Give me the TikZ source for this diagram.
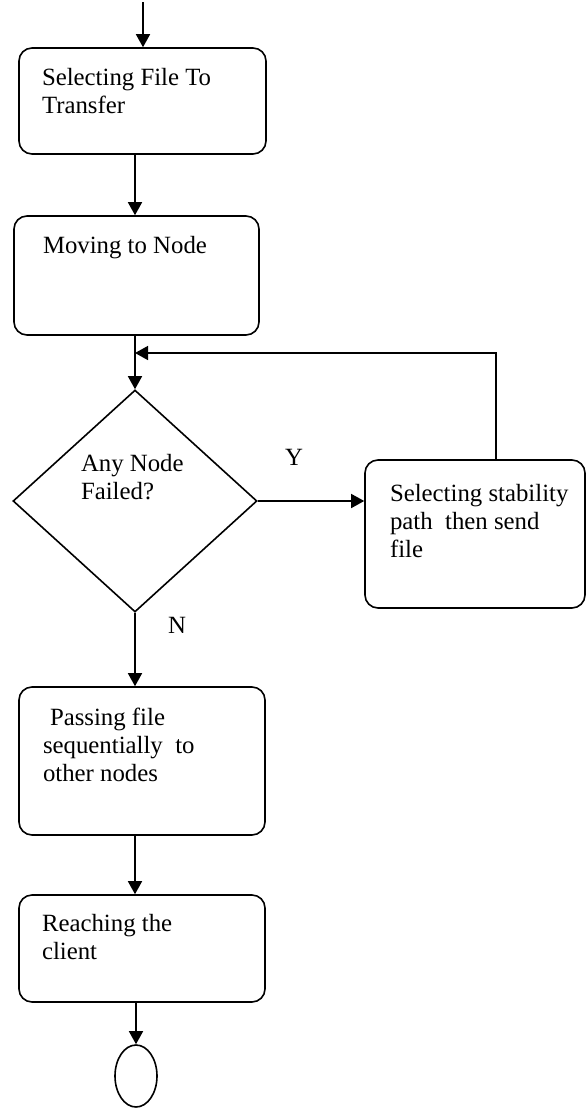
\documentclass[tikz,border=0pt]{standalone}
\usepackage{fontspec}
\setmainfont{Liberation Serif}
\usetikzlibrary{positioning,calc,shapes.geometric,arrows.meta}

\tikzset{
  block/.style={draw,line width=0.8pt,rounded corners=6.5pt,inner sep=0pt},
  decision/.style={draw,line width=0.8pt,diamond,inner sep=0pt},
  arr/.style={line width=0.75pt,-{Triangle[length=6.5pt,width=7pt]}}
}

\begin{document}
\begin{tikzpicture}[x=0.5pt,y=-0.5pt,font=\fontsize{12.4}{14}\selectfont]
   \useasboundingbox (0,0) rectangle (587,1108);

   \coordinate (start) at (143,2);
   \node[block,minimum width=123.5pt,minimum height=53pt] at (142.5,101) (select) {\parbox[c][33pt][t]{123.5pt}{\raggedright\leftskip=11.5pt Selecting File To\\ Transfer}};
   \node[block,minimum width=122.5pt,minimum height=59.5pt] at (136.5,275.5) (move) {\parbox[c][39.5pt][t]{122.5pt}{\raggedright\leftskip=14.5pt Moving to Node}};
   \node[decision,minimum width=122pt,minimum height=111pt] at (135,501) (failed) {\parbox[c][47pt][t]{54pt}{\raggedright Any Node\\ Failed?}};
   \node[block,minimum width=110pt,minimum height=74pt] at (475,534) (stable) {\parbox[c][50pt][t]{110pt}{\raggedright\leftskip=12.5pt Selecting stability\\ path~ then send\\ file}};
   \node[block,minimum width=123pt,minimum height=74pt] at (142,761) (pass) {\parbox[c][53pt][t]{123pt}{\raggedright\leftskip=12pt \hspace*{3.5pt}Passing file\\ sequentially~ to\\ other nodes}};
   \node[block,minimum width=123pt,minimum height=53.5pt] at (142,948.5) (reach) {\parbox[c][34.5pt][t]{123pt}{\raggedright\leftskip=11.5pt Reaching the\\ client}};
   \node[draw,line width=0.8pt,ellipse,inner sep=0pt,minimum width=21pt,minimum height=31pt] at (136,1076) (stop) {};

   \node at (294,457) (yes) {Y};
   \node at (177,625) (no) {N};
   \coordinate (join) at (135,353);
   \coordinate (loop) at (496,353);

   \draw[arr] (start) -- (select.north -| start);
   \draw[arr] (select.south -| failed) -- (move.north -| failed);
   \draw[arr] (move.south -| failed) -- (failed.north);
   \draw[arr] (stable.north -| loop) -- (loop) -- (join);
   \draw[arr] (failed.east) -- (failed.east -| stable.west);
   \draw[arr] (failed.south) -- (failed.south |- pass.north);
   \draw[arr] (pass.south -| failed) -- (reach.north -| failed);
   \draw[arr] (reach.south -| stop) -- (stop.north);
\end{tikzpicture}
\end{document}
